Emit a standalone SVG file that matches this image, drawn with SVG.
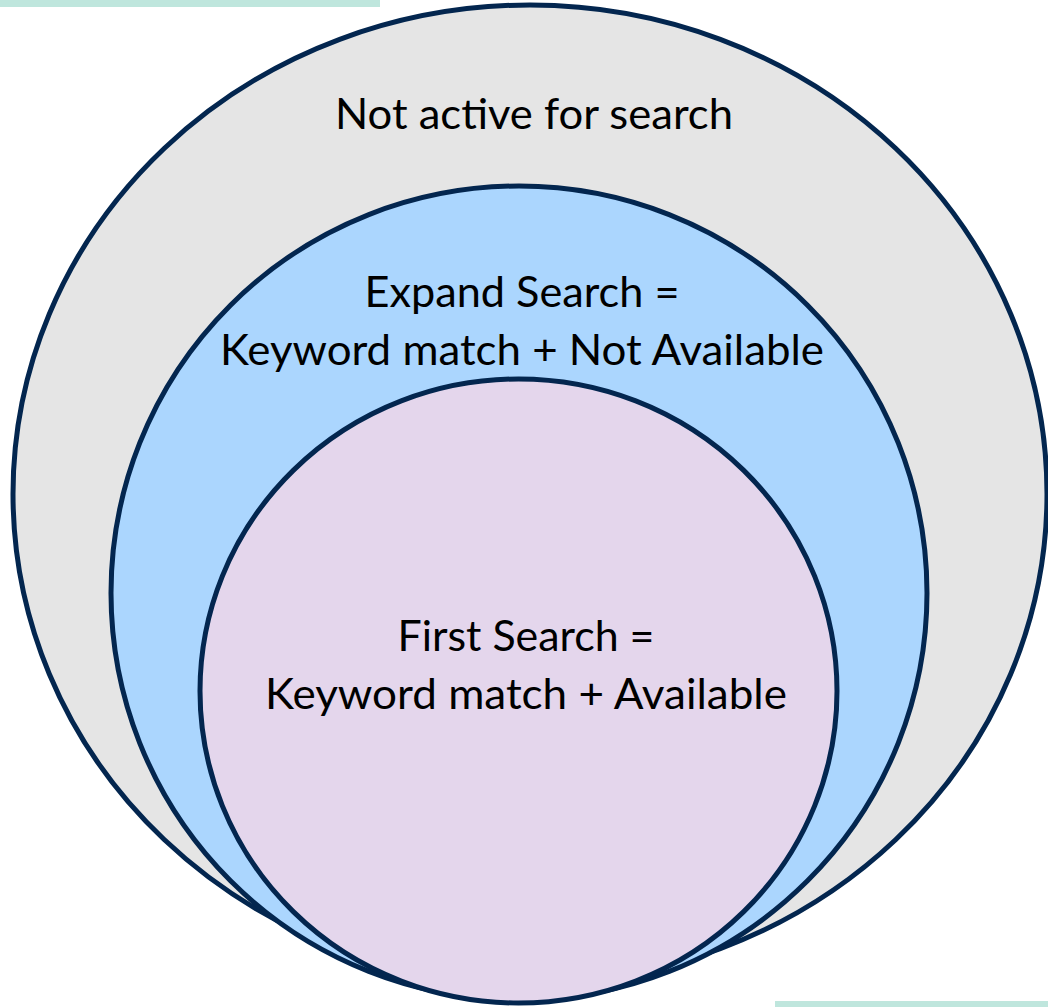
<svg xmlns="http://www.w3.org/2000/svg" width="1048" height="1007" viewBox="0 0 1048 1007">
<style>
.ring{stroke:#03264f;stroke-width:5}
.lbl{font-family:Lato,"Open Sans","Liberation Sans",sans-serif;font-size:42px;fill:#000;text-anchor:middle}
.bar{fill:#bfe6dd}
</style>
<rect width="1048" height="1007" fill="#ffffff"/>
<rect class="bar" x="0" y="0" width="380" height="7"/>
<rect class="bar" x="775" y="1001" width="273" height="6"/>
<g id="not-active">
<ellipse class="ring" cx="530" cy="494" rx="517" ry="489" fill="#e5e5e5"/>
<text class="lbl" x="534" y="129" textLength="398" lengthAdjust="spacingAndGlyphs">Not active for search</text>
</g>
<g id="expand-search">
<ellipse class="ring" cx="519" cy="593" rx="408" ry="407" fill="#abd6fe"/>
<text class="lbl" x="522" y="307" textLength="315" lengthAdjust="spacingAndGlyphs">Expand Search =</text>
<text class="lbl" x="522" y="365" textLength="604" lengthAdjust="spacingAndGlyphs">Keyword match + Not Available</text>
</g>
<g id="first-search">
<ellipse class="ring" cx="518.5" cy="691" rx="318.5" ry="312" fill="#e4d6ec"/>
<text class="lbl" x="526" y="651" textLength="257" lengthAdjust="spacingAndGlyphs">First Search =</text>
<text class="lbl" x="526" y="709" textLength="522" lengthAdjust="spacingAndGlyphs">Keyword match + Available</text>
</g>
<g id="connectors"></g>
</svg>
